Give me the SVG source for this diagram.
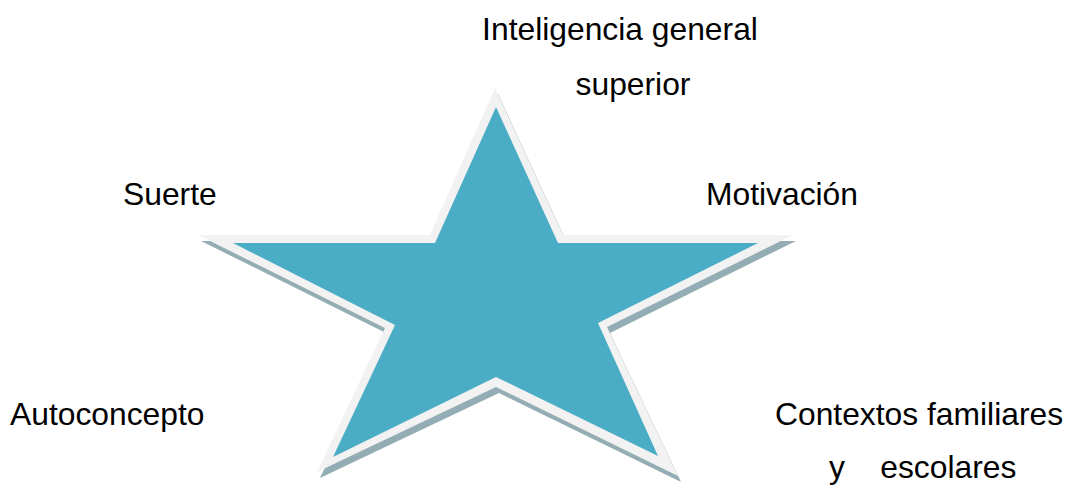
<svg xmlns="http://www.w3.org/2000/svg" width="1070" height="487" viewBox="0 0 1070 487">
<style>
.lbl{font-family:"Liberation Sans",Arial,sans-serif;font-size:31.8px;fill:#000}
</style>
<rect width="1070" height="487" fill="#fff"/>
<g id="star">
<polygon fill="#94adb5" transform="translate(3,6)" points="495,88 430,235 198,235 385,328 317,472 496,387 678,476 607,327 793,235 563,235"/>
<polygon fill="#f2f2f2" points="495,88 430,235 198,235 385,328 317,472 496,387 678,476 607,327 793,235 563,235"/>
<polygon fill="#4bacc6" points="496,107 435,243 233,243 395,325 333,457 496,377 658,456 598,323 758,243 558,243"/>
</g>
<g id="label-inteligencia"><text class="lbl" x="620" y="40" text-anchor="middle">Inteligencia general</text><text class="lbl" x="633" y="95" text-anchor="middle">superior</text></g>
<g id="label-suerte"><text class="lbl" x="123" y="205">Suerte</text></g>
<g id="label-motivacion"><text class="lbl" x="706" y="205">Motivación</text></g>
<g id="label-autoconcepto"><text class="lbl" x="10" y="425">Autoconcepto</text></g>
<g id="label-contextos"><text class="lbl" x="775" y="425">Contextos familiares</text><text class="lbl" x="829" y="478" xml:space="preserve">y    escolares</text></g>
</svg>
